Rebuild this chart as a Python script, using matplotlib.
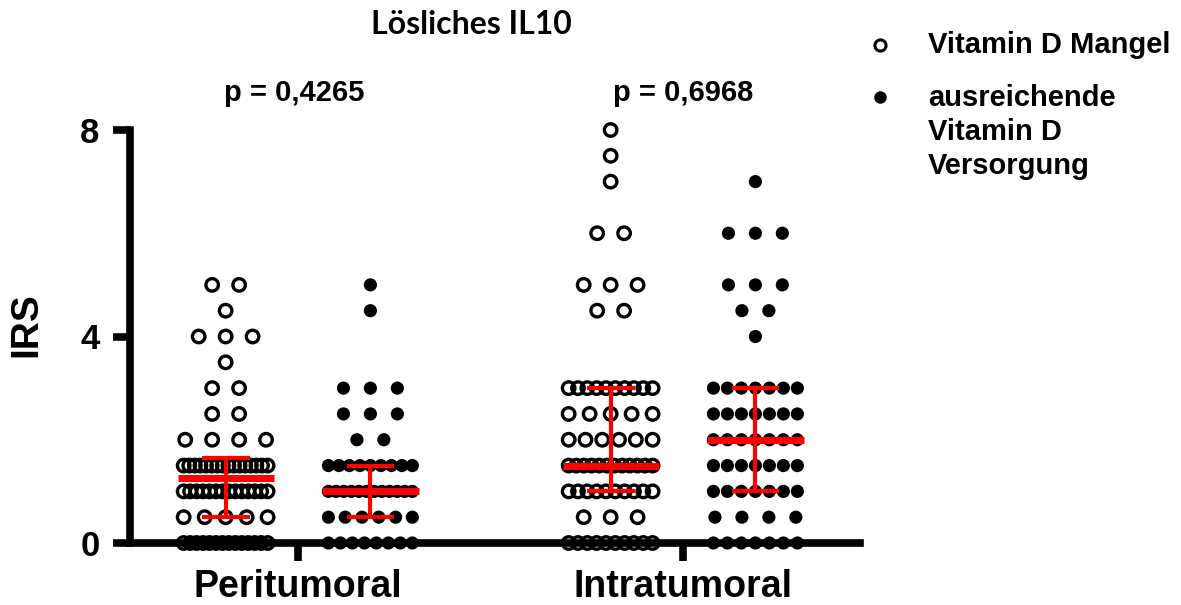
import numpy as np
import matplotlib
matplotlib.use("Agg")
import matplotlib.pyplot as plt
from matplotlib.lines import Line2D

plt.rcParams['font.family'] = ['Liberation Sans', 'DejaVu Sans']

# ---------------- data ----------------
categories = ["Peritumoral", "Intratumoral"]
title = "Lösliches IL10"
p_values = ["p = 0,4265", "p = 0,6968"]
legend_labels = ["Vitamin D Mangel", "ausreichende\nVitamin D\nVersorgung"]

# IRS values and number of points at each value
peri_mangel_vals = [0, 0.5, 1.0, 1.5, 2.0, 2.5, 3.0, 3.5, 4.0, 4.5, 5.0]
peri_mangel_cnt = [14, 5, 14, 16, 4, 2, 2, 1, 3, 1, 2]
peri_ausr_vals = [0, 0.5, 1.0, 1.5, 2.0, 2.5, 3.0, 4.5, 5.0]
peri_ausr_cnt = [8, 6, 12, 9, 2, 3, 3, 1, 1]
intra_mangel_vals = [0, 0.5, 1.0, 1.5, 2.0, 2.5, 3.0, 4.5, 5.0, 6.0, 7.0, 7.5, 8.0]
intra_mangel_cnt = [10, 3, 10, 12, 6, 5, 10, 2, 3, 2, 1, 1, 1]
intra_ausr_vals = [0, 0.5, 1.0, 1.5, 2.0, 2.5, 3.0, 4.0, 4.5, 5.0, 6.0, 7.0]
intra_ausr_cnt = [7, 4, 7, 7, 7, 7, 7, 1, 2, 3, 3, 1]

# median and interquartile range (red bars)
medians = [1.25, 1.0, 1.5, 2.0]
q1 = [0.5, 0.5, 1.0, 1.0]
q3 = [1.65, 1.5, 3.0, 3.0]

yticks = [0, 4, 8]

# ---------------- figure ----------------
W, H = 1181, 605
fig = plt.figure(figsize=(W / 100, H / 100), dpi=100)
ax = fig.add_axes([130 / W, 1 - 543 / H, (860 - 130) / W, (543 - 130) / H])
ax.set_xlim(-0.4364, 1.4597)
ax.set_ylim(0, 8)

offset = 0.188
spacing = 0.070
max_half = 0.109

groups = [
    (0 - offset, peri_mangel_vals, peri_mangel_cnt, True),
    (0 + offset, peri_ausr_vals, peri_ausr_cnt, False),
    (1 - offset, intra_mangel_vals, intra_mangel_cnt, True),
    (1 + offset, intra_ausr_vals, intra_ausr_cnt, False),
]

for gi, (cx, vals, cnts, hollow) in enumerate(groups):
    xs, ys = [], []
    for v, n in zip(vals, cnts):
        if n == 1:
            off = np.array([0.0])
        else:
            sp = min(spacing, 2 * max_half / (n - 1))
            off = (np.arange(n) - (n - 1) / 2) * sp
        xs.extend(cx + off)
        ys.extend([v] * n)
    if hollow:
        ax.scatter(xs, ys, s=81, facecolors='none', edgecolors='black',
                   linewidths=2.4, zorder=3, clip_on=False)
    else:
        ax.scatter(xs, ys, s=90, facecolors='black', edgecolors='none',
                   zorder=3, clip_on=False)
    # red median + IQR
    ax.plot([cx - 0.125, cx + 0.125], [medians[gi]] * 2, color='#ff0000',
            lw=5, solid_capstyle='butt', zorder=5, clip_on=False)
    ax.plot([cx, cx], [q1[gi], q3[gi]], color='#ff0000', lw=3,
            solid_capstyle='butt', zorder=5, clip_on=False)
    for q in (q1[gi], q3[gi]):
        ax.plot([cx - 0.062, cx + 0.062], [q, q], color='#ff0000', lw=3,
                solid_capstyle='butt', zorder=5, clip_on=False)

# axes styling
for s in ('top', 'right'):
    ax.spines[s].set_visible(False)
for s in ('left', 'bottom'):
    ax.spines[s].set_linewidth(5.5)
    ax.spines[s].set_capstyle('projecting')
ax.set_yticks(yticks)
ax.set_yticklabels([str(t) for t in yticks], fontsize=25, fontweight='bold')
ax.set_xticks([0, 1])
ax.set_xticklabels(categories, fontsize=27, fontweight='bold')
ax.tick_params(axis='y', length=12, width=5.5, pad=10)
ax.tick_params(axis='x', length=13, width=5.5, pad=6)

fig.text(26 / W, 1 - 325 / H, "IRS", rotation=90, ha='center', va='center',
         fontsize=28, fontweight='bold')

fig.text(471 / W, 1 - 24 / H, title, ha='center', va='center', fontsize=23,
         fontweight='bold', family=['Lato', 'DejaVu Sans'])

for xp, txt in zip([294, 683], p_values):
    fig.text(xp / W, 1 - 93 / H, txt, ha='center', va='center', fontsize=21,
             fontweight='bold')

# legend (manual)
fig.add_artist(Line2D([880 / W], [1 - 45 / H], transform=fig.transFigure,
                      marker='o', markersize=8, markerfacecolor='none',
                      markeredgecolor='black', markeredgewidth=2.2, ls='none'))
fig.add_artist(Line2D([880 / W], [1 - 97 / H], transform=fig.transFigure,
                      marker='o', markersize=9, markerfacecolor='black',
                      markeredgecolor='none', ls='none'))
fig.text(928 / W, 1 - 45 / H, legend_labels[0], ha='left', va='center',
         fontsize=21, fontweight='bold')
fig.text(928 / W, 1 - 84 / H, legend_labels[1], ha='left', va='top',
         fontsize=21, fontweight='bold', linespacing=1.27)

fig.savefig("out.png", dpi=100)
